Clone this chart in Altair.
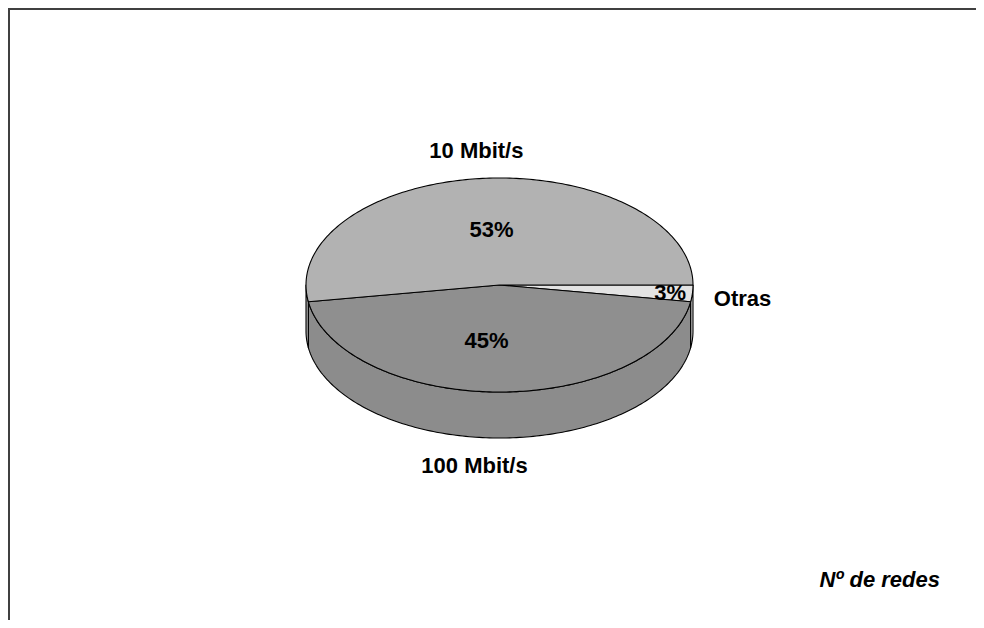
import math
import altair as alt
import pandas as pd

# ---- data ----
categories = ["Otras", "100 Mbit/s", "10 Mbit/s"]
counts = [1, 18, 21]
footnote = "Nº de redes"

# ---- styles ----
top_fill = ["#e3e3e3", "#8f8f8f", "#b2b2b2"]
side_fill = ["#d0d0d0", "#8c8c8c", "#a6a6a6"]
FONT = "Liberation Sans"
FS = 22
name_dx = [0, -25, -4]
pct_dx = [-3, -13, 0]

# ---- layout (pixels in the view) ----
W, H = 968, 612
CX, CY = 491.5, 277.0      # pie centre
S = 193.5                  # px per data unit (horizontal radius)
RY = 107.0 / S             # vertical radius of the tilted top
DEPTH = 46.0 / S           # thickness of the pie

total = sum(counts)
bounds = []
acc = 0.0
for c in counts:
    nxt = acc + 360.0 * c / total
    bounds.append((acc, nxt))
    acc = nxt


def pt(t, drop=0.0):
    r = math.radians(t)
    return math.cos(r), -RY * math.sin(r) - drop


def arc(a0, a1, drop=0.0):
    n = max(2, int(math.ceil(abs(a1 - a0))) + 1)
    return [pt(a0 + (a1 - a0) * i / (n - 1), drop) for i in range(n)]


side_rows, top_rows = [], []
for i, (cat, (a0, a1)) in enumerate(zip(categories, bounds)):
    s0, s1 = max(a0, 0.0), min(a1, 180.0)
    if s1 > s0:
        pts = arc(s0, s1) + arc(s1, s0, DEPTH)
        pts.append(pts[0])
        for k, (x, y) in enumerate(pts):
            side_rows.append(dict(key="side " + cat, x=x, y=y, k=k))
    pts = [(0.0, 0.0)] + arc(a0, a1) + [(0.0, 0.0)]
    for k, (x, y) in enumerate(pts):
        top_rows.append(dict(key="top " + cat, x=x, y=y, k=k))

keys = ["side " + c for c in categories] + ["top " + c for c in categories]
fills = side_fill + top_fill

xs = alt.Scale(domain=[-CX / S, (W - CX) / S], nice=False, zero=False)
ys = alt.Scale(domain=[-(H - CY) / S, CY / S], nice=False, zero=False)
fill_scale = alt.Scale(domain=keys, range=fills)


def poly_layer(rows):
    return alt.Chart(pd.DataFrame(rows)).mark_line(
        stroke="black", strokeWidth=1.1, strokeJoin="round"
    ).encode(
        x=alt.X("x:Q", scale=xs, axis=None),
        y=alt.Y("y:Q", scale=ys, axis=None),
        detail="key:N",
        order="k:Q",
        fill=alt.Fill("key:N", scale=fill_scale, legend=None),
    )


layers = [poly_layer(side_rows), poly_layer(top_rows)]

for i, (cat, (a0, a1)) in enumerate(zip(categories, bounds)):
    mid = (a0 + a1) / 2.0
    share = counts[i] / total * 100.0
    pct = f"{math.floor(share + 0.5)}%"
    fin = 0.9 if share < 5 else 0.52
    r = math.radians(mid)
    px_, py_ = fin * math.cos(r), -fin * RY * math.sin(r)
    fout = 1.26
    sn = math.sin(r)
    nx = fout * math.cos(r)
    ny = -(fout * RY + (DEPTH if sn > 0 else 0.0)) * sn
    lab = pd.DataFrame({"x": [px_, nx], "y": [py_, ny], "t": [pct, cat],
                        "kind": ["pct", "name"]})
    for kind, dx in (("pct", pct_dx[i]), ("name", name_dx[i])):
        layers.append(
            alt.Chart(lab).transform_filter(alt.datum.kind == kind).mark_text(
                font=FONT, fontSize=FS, fontWeight="bold", color="black",
                align="center", baseline="middle", dx=dx
            ).encode(
                x=alt.X("x:Q", scale=xs, axis=None),
                y=alt.Y("y:Q", scale=ys, axis=None),
                text="t:N",
            )
        )

one = pd.DataFrame({"t": [footnote]})
layers.append(
    alt.Chart(one).mark_text(
        font=FONT, fontSize=FS, fontWeight="bold", fontStyle="italic",
        align="right", baseline="middle", color="black"
    ).encode(x=alt.value(932), y=alt.value(572), text="t:N")
)
layers.append(
    alt.Chart(one).mark_rule(color="#404040", strokeWidth=2).encode(
        x=alt.value(0), x2=alt.value(W), y=alt.value(1))
)
layers.append(
    alt.Chart(one).mark_rule(color="#404040", strokeWidth=2).encode(
        x=alt.value(1), y=alt.value(0), y2=alt.value(H))
)

chart = alt.layer(*layers).properties(
    width=W, height=H, padding=0,
    autosize=alt.AutoSizeParams(type="none"),
    background="white",
).configure_view(stroke=None)

chart.save("out.html", embed_options={"renderer": "svg", "actions": False})
